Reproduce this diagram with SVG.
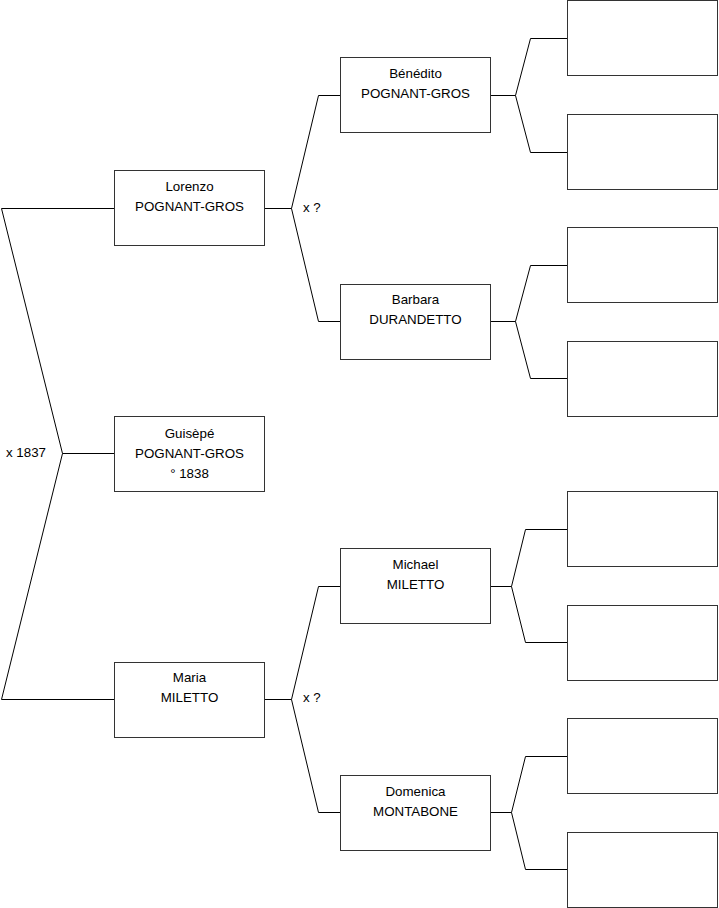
<svg xmlns="http://www.w3.org/2000/svg" width="719" height="908" viewBox="0 0 719 908">
<style>
.box{fill:#fff;stroke:#333;stroke-width:1}
.t{font-family:"Liberation Sans",Arial,sans-serif;font-size:13.33px;fill:#000;text-anchor:middle}
.l{font-family:"Liberation Sans",Arial,sans-serif;font-size:13.33px;fill:#000}
.c{fill:none;stroke:#000;stroke-width:1}
</style>
<rect width="719" height="908" fill="#fff"/>
<g id="connectors">
<path class="c" d="M114,208.5 H1.5 L62.5,453.5 L1.5,699.5 H114 M62.5,453.5 H114"/>
<path class="c" d="M265,208.5 H291.5 L318.5,95.5 H340 M291.5,208.5 L318.5,321.5 H340"/>
<path class="c" d="M265,699.5 H291.5 L318.5,586.5 H340 M291.5,699.5 L318.5,812.5 H340"/>
<path class="c" d="M491,95.5 H515.5 L530.5,38.5 H567 M515.5,95.5 L530.5,152.5 H567"/>
<path class="c" d="M491,321.5 H515.5 L530.5,265.5 H567 M515.5,321.5 L530.5,378.5 H567"/>
<path class="c" d="M491,586.5 H511.5 L525.5,529.5 H567 M511.5,586.5 L525.5,642.5 H567"/>
<path class="c" d="M491,812.5 H511.5 L525.5,756.5 H567 M511.5,812.5 L525.5,869.5 H567"/>
<text class="l" x="6" y="457">x 1837</text>
<text class="l" x="303" y="212">x ?</text>
<text class="l" x="303" y="702">x ?</text>
</g>
<g id="lorenzo"><rect class="box" x="114.5" y="170.5" width="150" height="75"/><text class="t" x="189.5" y="191">Lorenzo</text><text class="t" x="189.5" y="211">POGNANT-GROS</text></g>
<g id="guisepe"><rect class="box" x="114.5" y="416.5" width="150" height="75"/><text class="t" x="189.5" y="438">Guisèpé</text><text class="t" x="189.5" y="458">POGNANT-GROS</text><text class="t" x="189.5" y="478">° 1838</text></g>
<g id="maria"><rect class="box" x="114.5" y="662.5" width="150" height="75"/><text class="t" x="189.5" y="682">Maria</text><text class="t" x="189.5" y="702">MILETTO</text></g>
<g id="benedito"><rect class="box" x="340.5" y="57.5" width="150" height="75"/><text class="t" x="415.5" y="78">Bénédito</text><text class="t" x="415.5" y="98">POGNANT-GROS</text></g>
<g id="barbara"><rect class="box" x="340.5" y="284.5" width="150" height="75"/><text class="t" x="415.5" y="304">Barbara</text><text class="t" x="415.5" y="324">DURANDETTO</text></g>
<g id="michael"><rect class="box" x="340.5" y="548.5" width="150" height="75"/><text class="t" x="415.5" y="569">Michael</text><text class="t" x="415.5" y="589">MILETTO</text></g>
<g id="domenica"><rect class="box" x="340.5" y="775.5" width="150" height="75"/><text class="t" x="415.5" y="796">Domenica</text><text class="t" x="415.5" y="816">MONTABONE</text></g>
<g id="p1"><rect class="box" x="567.5" y="0.5" width="150" height="75"/></g>
<g id="p2"><rect class="box" x="567.5" y="114.5" width="150" height="75"/></g>
<g id="p3"><rect class="box" x="567.5" y="227.5" width="150" height="75"/></g>
<g id="p4"><rect class="box" x="567.5" y="341.5" width="150" height="75"/></g>
<g id="p5"><rect class="box" x="567.5" y="491.5" width="150" height="75"/></g>
<g id="p6"><rect class="box" x="567.5" y="605.5" width="150" height="75"/></g>
<g id="p7"><rect class="box" x="567.5" y="718.5" width="150" height="75"/></g>
<g id="p8"><rect class="box" x="567.5" y="832.5" width="150" height="75"/></g>
</svg>
